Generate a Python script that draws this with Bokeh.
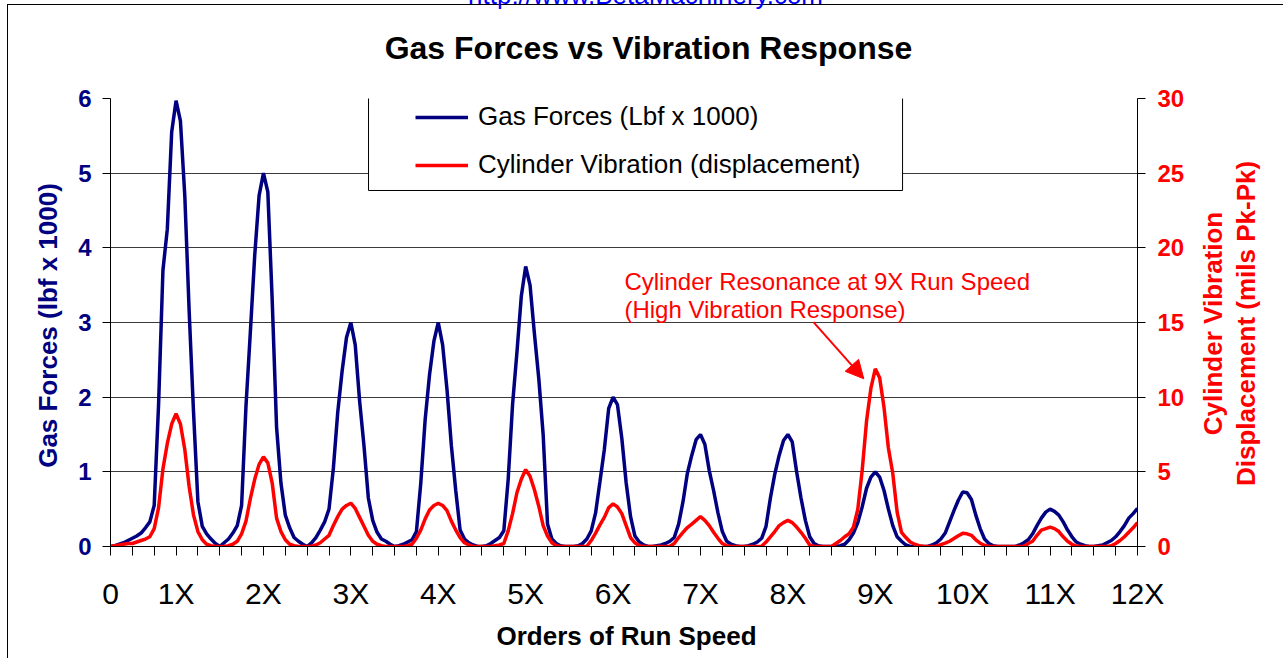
from bokeh.plotting import figure
from bokeh.models import (Range1d, LinearAxis, FixedTicker, Label, Arrow, NormalHead,
                          BoxAnnotation, Legend, LegendItem, ColumnDataSource)
from bokeh.embed import file_html
from bokeh.resources import INLINE

FONT = "Liberation Sans"
NAVY = "#000080"
RED = "#FF0000"

# ---------------- data ----------------
# sample positions along the run-speed axis (orders), every 0.05 order from 0.25 to 12
orders = [round(0.25 + 0.05 * i, 2) for i in range(236)]

# Gas forces (Lbf x 1000), left axis
gas_forces = [
    0, 0.01, 0.03, 0.05, 0.08,                                                     # 0.25-0.45
    0.11, 0.14, 0.18, 0.25, 0.33, 0.55, 1.9, 3.7, 4.25, 5.55,                       # 0.50-0.95
    5.97, 5.7, 4.7, 3.15, 1.8, 0.6, 0.27, 0.17, 0.1, 0.04,                          # 1.00-1.45
    0, 0.05, 0.1, 0.18, 0.28, 0.55, 1.88, 2.87, 3.9, 4.7,                           # 1.50-1.95
    5.0, 4.75, 3.3, 1.6, 0.85, 0.42, 0.25, 0.12, 0.07, 0.03,                        # 2.00-2.45
    0, 0.05, 0.12, 0.22, 0.33, 0.5, 1.05, 1.8, 2.35, 2.8,                           # 2.50-2.95
    3.0, 2.7, 1.95, 1.35, 0.65, 0.35, 0.19, 0.1, 0.07, 0.03,                        # 3.00-3.45
    0, 0.01, 0.03, 0.06, 0.09, 0.2, 0.85, 1.7, 2.3, 2.75,                           # 3.50-3.95
    3.0, 2.7, 2.1, 1.35, 0.75, 0.22, 0.1, 0.05, 0.02, 0,                            # 4.00-4.45
    0, 0.01, 0.04, 0.08, 0.12, 0.21, 0.9, 1.9, 2.6, 3.35,                           # 4.50-4.95
    3.75, 3.5, 2.85, 2.25, 1.5, 0.3, 0.1, 0.04, 0.01, 0,                            # 5.00-5.45
    0, 0, 0.01, 0.04, 0.1, 0.21, 0.45, 0.87, 1.3, 1.85,                             # 5.50-5.95
    2.0, 1.9, 1.45, 0.85, 0.4, 0.14, 0.06, 0.02, 0, 0,                              # 6.00-6.45
    0.01, 0.02, 0.04, 0.07, 0.12, 0.3, 0.6, 0.98, 1.22, 1.43,                       # 6.50-6.95
    1.5, 1.37, 1.02, 0.75, 0.45, 0.2, 0.07, 0.03, 0.01, 0,                          # 7.00-7.45
    0, 0.01, 0.03, 0.06, 0.11, 0.27, 0.65, 0.97, 1.22, 1.42,                        # 7.50-7.95
    1.5, 1.4, 1.0, 0.65, 0.35, 0.13, 0.04, 0.01, 0, 0,                              # 8.00-8.45
    0, 0, 0.01, 0.03, 0.09, 0.18, 0.32, 0.53, 0.78, 0.93,                           # 8.50-8.95
    1.0, 0.93, 0.75, 0.5, 0.28, 0.13, 0.07, 0.02, 0, 0,                             # 9.00-9.45
    0, 0, 0, 0.02, 0.05, 0.1, 0.18, 0.33, 0.48, 0.62,                               # 9.50-9.95
    0.73, 0.72, 0.63, 0.42, 0.24, 0.1, 0.04, 0.01, 0, 0,                            # 10.00-10.45
    0, 0, 0, 0.02, 0.05, 0.09, 0.17, 0.28, 0.38, 0.46,                              # 10.50-10.95
    0.5, 0.47, 0.42, 0.33, 0.22, 0.13, 0.06, 0.03, 0.01, 0,                         # 11.00-11.45
    0, 0.01, 0.02, 0.05, 0.08, 0.13, 0.2, 0.28, 0.38, 0.44, 0.51,                   # 11.50-12.00
]

# Cylinder vibration displacement (mils Pk-Pk), right axis
cylinder_vibration = [
    0, 0.05, 0.1, 0.15, 0.2,
    0.2, 0.3, 0.4, 0.5, 0.65, 1.2, 2.6, 5.2, 6.9, 8.2,
    8.9, 8.2, 6.5, 4.0, 2.1, 1.0, 0.45, 0.15, 0.05, 0,
    0, 0, 0.05, 0.15, 0.35, 0.85, 1.7, 3.2, 4.5, 5.5,
    6.0, 5.6, 4.25, 1.9, 1.0, 0.45, 0.15, 0.05, 0, 0,
    0, 0.02, 0.1, 0.25, 0.5, 0.75, 1.4, 2.0, 2.5, 2.75,
    2.9, 2.55, 1.95, 1.35, 0.75, 0.35, 0.15, 0.05, 0, 0,
    0, 0, 0, 0.05, 0.15, 0.55, 1.1, 1.85, 2.45, 2.75,
    2.9, 2.75, 2.4, 1.7, 1.1, 0.6, 0.25, 0.1, 0, 0,
    0, 0, 0, 0.05, 0.1, 0.2, 1.05, 2.2, 3.6, 4.5,
    5.15, 4.7, 3.8, 2.7, 1.4, 0.7, 0.25, 0.05, 0, 0,
    0, 0, 0, 0, 0.02, 0.4, 0.9, 1.45, 1.95, 2.6,
    2.85, 2.65, 2.2, 1.4, 0.6, 0.25, 0.05, 0, 0, 0,
    0, 0, 0, 0.02, 0.2, 0.6, 0.95, 1.27, 1.5, 1.75,
    2.0, 1.75, 1.4, 0.95, 0.55, 0.2, 0.05, 0, 0, 0,
    0, 0, 0, 0, 0.02, 0.3, 0.65, 1.0, 1.4, 1.6,
    1.75, 1.6, 1.3, 0.95, 0.55, 0.1, 0, 0, 0, 0,
    0, 0.2, 0.4, 0.65, 0.85, 1.3, 2.5, 5.1, 8.4, 10.6,
    11.9, 11.3, 9.3, 6.6, 4.9, 2.3, 0.95, 0.6, 0.3, 0.15,
    0.05, 0.02, 0, 0, 0.02, 0.12, 0.22, 0.35, 0.53, 0.72,
    0.88, 0.85, 0.75, 0.45, 0.22, 0.08, 0, 0, 0, 0,
    0, 0, 0, 0, 0, 0.2, 0.35, 0.75, 1.1, 1.2,
    1.3, 1.2, 1.0, 0.65, 0.35, 0.15, 0.03, 0, 0, 0,
    0, 0, 0, 0, 0.05, 0.2, 0.4, 0.65, 0.95, 1.25, 1.6,
]

x_tick_positions = [0.25, 1, 2, 3, 4, 5, 6, 7, 8, 9, 10, 11, 12]
x_tick_labels = ["0", "1X", "2X", "3X", "4X", "5X", "6X", "7X", "8X", "9X", "10X", "11X", "12X"]
x_minor_positions = [q / 4 for q in range(1, 49) if (q / 4) not in x_tick_positions]
left_ticks = [0, 1, 2, 3, 4, 5, 6]
right_ticks = [0, 5, 10, 15, 20, 25, 30]

title_text = "Gas Forces vs Vibration Response"
x_title = "Orders of Run Speed"
left_title = "Gas Forces (lbf x 1000)"
right_title_lines = ["Cylinder Vibration", "Displacement (mils Pk-Pk)"]
legend_labels = ["Gas Forces (Lbf x 1000)", "Cylinder Vibration (displacement)"]
note_lines = ["Cylinder Resonance at 9X Run Speed", "(High Vibration Response)"]
url_text = "http://www.BetaMachinery.com"

# ---------------- figure ----------------
p = figure(width=1283, height=658, output_backend="svg", toolbar_location=None,
           x_range=Range1d(0.25, 12), y_range=Range1d(0, 6),
           min_border_left=110, min_border_right=146, min_border_top=98, min_border_bottom=112,
           background_fill_color="white", border_fill_color=None, outline_line_color=None)
p.extra_y_ranges = {"vib": Range1d(0, 30)}
# chart-area frame lines (left and top) painted behind the transparent canvas border
p.styles = {
    "background-color": "white",
    "background-image": "linear-gradient(#000, #000), linear-gradient(#000, #000)",
    "background-position": "7px 4px, 7px 4px",
    "background-size": "1px 660px, 1280px 1px",
    "background-repeat": "no-repeat",
}

# x axis
xa = p.xaxis[0]
xa.ticker = FixedTicker(ticks=x_tick_positions, minor_ticks=x_minor_positions)
xa.major_label_overrides = dict(zip(x_tick_positions, x_tick_labels))
xa.major_label_text_font = FONT
xa.major_label_text_font_size = "30px"
xa.major_label_text_color = "black"
xa.major_label_standoff = 21
xa.axis_line_color = "black"
xa.major_tick_line_color = "black"
xa.minor_tick_line_color = "black"
xa.major_tick_out = 9
xa.major_tick_in = 0
xa.minor_tick_out = 9
xa.minor_tick_in = 0

# left axis
ya = p.yaxis[0]
ya.ticker = FixedTicker(ticks=left_ticks)
ya.major_label_text_font = FONT
ya.major_label_text_font_size = "24px"
ya.major_label_text_font_style = "bold"
ya.major_label_text_color = NAVY
ya.major_label_standoff = 11
ya.axis_line_color = "black"
ya.major_tick_line_color = "black"
ya.major_tick_out = 8
ya.major_tick_in = 0
ya.minor_tick_line_color = None

# right axis
ra = LinearAxis(y_range_name="vib", ticker=FixedTicker(ticks=right_ticks))
ra.major_label_text_font = FONT
ra.major_label_text_font_size = "24px"
ra.major_label_text_font_style = "bold"
ra.major_label_text_color = RED
ra.major_label_standoff = 12
ra.axis_line_color = "black"
ra.major_tick_line_color = "black"
ra.major_tick_out = 8
ra.major_tick_in = 0
ra.minor_tick_line_color = None
p.add_layout(ra, "right")

p.xgrid.visible = False
p.ygrid.ticker = FixedTicker(ticks=left_ticks[1:])
p.ygrid.grid_line_color = "#3a3a3a"
p.ygrid.grid_line_width = 1

# data lines
src = ColumnDataSource(dict(order=orders, gas=gas_forces, vib=cylinder_vibration))
gas_r = p.line("order", "gas", source=src, line_color=NAVY, line_width=3.5)
vib_r = p.line("order", "vib", source=src, line_color=RED, line_width=3.5, y_range_name="vib")

# legend box + legend
p.add_layout(BoxAnnotation(left=3.202, right=9.312, top=6.027, bottom=4.768,
                           fill_color="white", fill_alpha=1,
                           line_color="black", line_alpha=1, line_width=1))
legend = Legend(items=[LegendItem(label=legend_labels[0], renderers=[gas_r]),
                       LegendItem(label=legend_labels[1], renderers=[vib_r])],
                location=(305, 366), padding=0, margin=0, spacing=17,
                glyph_width=53, glyph_height=30, label_height=30, label_standoff=10,
                label_text_font=FONT, label_text_font_size="26px", label_text_color="black",
                border_line_color=None, background_fill_alpha=0)
p.add_layout(legend)

# texts outside the plotting frame, placed in the side panels (positions in data units)
p.add_layout(Label(x=6.371, y=7.384, text=url_text, text_font=FONT, text_font_size="26px",
                   text_color="#0000FF", text_align="center", text_baseline="middle"), "above")
p.add_layout(Label(x=6.405, y=6.676, text=title_text, text_font=FONT, text_font_size="32px",
                   text_font_style="bold", text_color="black",
                   text_align="center", text_baseline="middle"), "above")
p.add_layout(Label(x=6.154, y=-1.199, text=x_title, text_font=FONT, text_font_size="26px",
                   text_font_style="bold", text_color="black",
                   text_align="center", text_baseline="middle"), "below")
p.add_layout(Label(x=-0.4594, y=2.96, text=left_title, text_font=FONT, text_font_size="26px",
                   text_font_style="bold", text_color=NAVY, angle=90, angle_units="deg",
                   text_align="center", text_baseline="middle"), "left")
for xv, line in zip([12.859, 13.236], right_title_lines):
    p.add_layout(Label(x=xv, y=2.987, text=line, text_font=FONT, text_font_size="26px",
                       text_font_style="bold", text_color=RED, angle=90, angle_units="deg",
                       text_align="center", text_baseline="middle"), "right")

# annotation inside the frame
for yv, line in zip([3.545, 3.178], note_lines):
    p.add_layout(Label(x=6.13, y=yv, text=line, text_font=FONT, text_font_size="24px",
                       text_color=RED, text_align="left", text_baseline="middle"))

p.add_layout(Arrow(end=NormalHead(size=18, fill_color=RED, line_color=RED),
                   x_start=8.293, y_start=3.004, x_end=8.869, y_end=2.246,
                   line_color=RED, line_width=2))

open("out.html", "w").write(file_html(p, INLINE))
